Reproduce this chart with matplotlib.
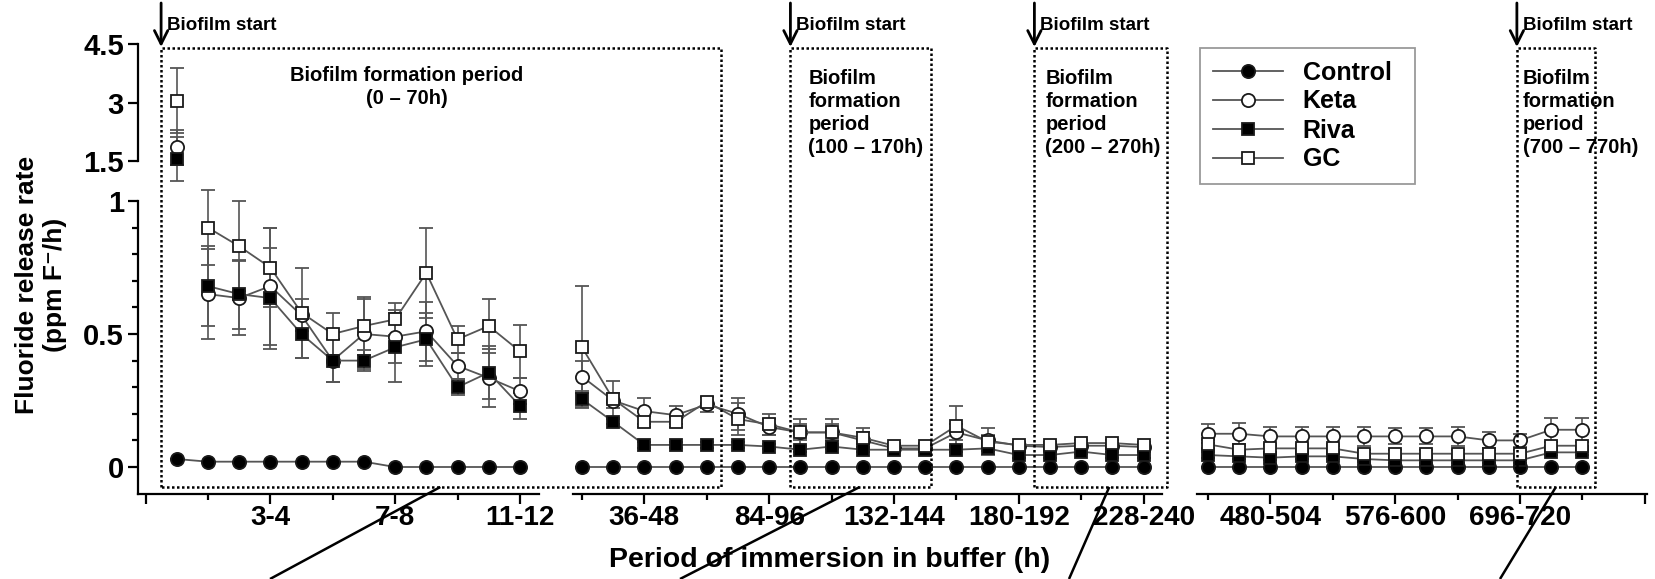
import numpy as np
import matplotlib
matplotlib.use('Agg')
import matplotlib.pyplot as plt
from matplotlib.lines import Line2D

plt.rcParams['font.family'] = ['Liberation Sans', 'DejaVu Sans']
plt.rcParams['font.weight'] = 'bold'
plt.rcParams['axes.linewidth'] = 1.6

W, H = 1655, 579

# ---- data: fluoride release rate (ppm F-/h), three x-axis segments ----
seg_sizes = [12, 19, 13]
seg_first = [1, 0, 0]          # category index of the first sample in each segment

control = [0.03, 0.02, 0.02, 0.02, 0.02, 0.02, 0.02, 0.0, 0.0, 0.0, 0.0, 0.0,
           0.0, 0.0, 0.0, 0.0, 0.0, 0.0, 0.0, 0.0, 0.0, 0.0, 0.0, 0.0, 0.0, 0.0, 0.0, 0.0, 0.0, 0.0, 0.0,
           0.0, 0.0, 0.0, 0.0, 0.0, 0.0, 0.0, 0.0, 0.0, 0.0, 0.0, 0.0, 0.0]
control_sd = [0.0] * 44

keta = [1.85, 0.65, 0.635, 0.68, 0.57, 0.40, 0.50, 0.49, 0.51, 0.38, 0.335, 0.285,
        0.34, 0.25, 0.21, 0.195, 0.235, 0.20, 0.15, 0.13, 0.13, 0.10, 0.07, 0.07, 0.13, 0.10, 0.08, 0.075, 0.08, 0.08, 0.075,
        0.125, 0.125, 0.115, 0.115, 0.115, 0.115, 0.115, 0.115, 0.115, 0.10, 0.10, 0.14, 0.14]
keta_sd = [0.45, 0.17, 0.14, 0.22, 0.06, 0.08, 0.13, 0.10, 0.11, 0.05, 0.11, 0.05,
           0.06, 0.03, 0.05, 0.035, 0.03, 0.06, 0.03, 0.03, 0.03, 0.03, 0.01, 0.01, 0.03, 0.02, 0.01, 0.01, 0.01, 0.01, 0.01,
           0.035, 0.04, 0.035, 0.035, 0.035, 0.035, 0.03, 0.03, 0.035, 0.03, 0.025, 0.045, 0.045]

riva = [1.55, 0.68, 0.65, 0.635, 0.50, 0.40, 0.40, 0.45, 0.48, 0.30, 0.355, 0.23,
        0.255, 0.17, 0.083, 0.083, 0.083, 0.083, 0.077, 0.065, 0.077, 0.065, 0.065, 0.065, 0.065, 0.07, 0.045, 0.045, 0.058, 0.045, 0.045,
        0.045, 0.04, 0.035, 0.04, 0.04, 0.03, 0.025, 0.025, 0.025, 0.025, 0.025, 0.055, 0.055]
riva_sd = [0.57, 0.15, 0.13, 0.19, 0.09, 0.08, 0.04, 0.13, 0.10, 0.03, 0.10, 0.05,
           0.03, 0.01, 0.01, 0.01, 0.01, 0.01, 0.01, 0.01, 0.01, 0.01, 0.01, 0.01, 0.01, 0.01, 0.01, 0.01, 0.01, 0.01, 0.01,
           0.01, 0.01, 0.01, 0.01, 0.01, 0.01, 0.01, 0.01, 0.01, 0.01, 0.01, 0.01, 0.01]

gc = [3.05, 0.90, 0.83, 0.75, 0.58, 0.50, 0.53, 0.555, 0.73, 0.48, 0.53, 0.435,
      0.45, 0.255, 0.17, 0.17, 0.245, 0.18, 0.16, 0.13, 0.13, 0.11, 0.08, 0.08, 0.155, 0.095, 0.083, 0.083, 0.09, 0.09, 0.083,
      0.085, 0.065, 0.07, 0.07, 0.07, 0.05, 0.05, 0.05, 0.05, 0.05, 0.05, 0.08, 0.08]
gc_sd = [0.83, 0.14, 0.17, 0.15, 0.17, 0.08, 0.11, 0.06, 0.17, 0.05, 0.10, 0.10,
         0.23, 0.07, 0.02, 0.02, 0.02, 0.06, 0.04, 0.05, 0.05, 0.035, 0.01, 0.01, 0.075, 0.05, 0.01, 0.01, 0.01, 0.01, 0.01,
         0.015, 0.015, 0.015, 0.015, 0.015, 0.015, 0.015, 0.015, 0.015, 0.015, 0.015, 0.015, 0.015]

series_names = ['Control', 'Keta', 'Riva', 'GC']

seg_major = [[0, 4, 8, 12], [2, 6, 10, 14, 18], [2, 6, 10, 14]]
seg_minor = [[2, 6, 10], [0, 4, 8, 12, 16], [0, 4, 8, 12]]
seg_labels = [['', '3-4', '7-8', '11-12'],
              ['36-48', '84-96', '132-144', '180-192', '228-240'],
              ['480-504', '576-600', '696-720', '']]
seg_xlim = [(-0.25, 12.6), (-0.3, 18.6), (-0.35, 14.06)]

box_labels = ['Biofilm formation period\n(0 \u2013 70h)',
              'Biofilm\nformation\nperiod\n(100 \u2013 170h)',
              'Biofilm\nformation\nperiod\n(200 \u2013 270h)',
              'Biofilm\nformation\nperiod\n(700 \u2013 770h)']

# ---- layout (pixels, top-left origin) ----
def rect(l, t, r, b):
    return [l / W, 1 - b / H, (r - l) / W, (b - t) / H]

fig = plt.figure(figsize=(W / 100, H / 100), dpi=100)
unit = 31.2
seg_zero = [145.5, 582, 1208]
y_top, y_bot = 201, 493.6

axes = []
for i in range(3):
    lo, hi = seg_xlim[i]
    l = seg_zero[i] + lo * unit
    r = seg_zero[i] + hi * unit
    ax = fig.add_axes(rect(l, y_top, r, y_bot))
    ax.set_xlim(lo, hi)
    ax.set_ylim(-0.1, 1.0)
    ax.patch.set_visible(False)
    for s in ['top', 'right']:
        ax.spines[s].set_visible(False)
    ax.set_xticks(seg_major[i])
    ax.set_xticklabels(seg_labels[i], fontsize=20, fontweight='bold')
    ax.set_xticks(seg_minor[i], minor=True)
    ax.tick_params(axis='x', which='major', length=7.5, width=1.6, pad=1)
    ax.tick_params(axis='x', which='minor', length=4, width=1.6)
    if i == 0:
        ax.spines['left'].set_bounds(-0.1, 1.0)
        ax.set_yticks([0, 0.5, 1])
        ax.set_yticklabels(['0', '0.5', '1'], fontsize=21, fontweight='bold')
        ax.set_yticks(np.arange(0.1, 0.95, 0.1), minor=True)
        ax.tick_params(axis='y', which='major', length=7, width=1.6, pad=3)
        ax.tick_params(axis='y', which='minor', length=4, width=1.6)
    else:
        ax.spines['left'].set_visible(False)
        ax.set_yticks([])
    axes.append(ax)

# upper (broken) part of the y axis for the first sample
axu = fig.add_axes(rect(seg_zero[0] + seg_xlim[0][0] * unit, 44,
                        seg_zero[0] + seg_xlim[0][1] * unit, 184.4))
axu.set_xlim(*seg_xlim[0])
axu.set_ylim(0.9, 4.5)
axu.patch.set_visible(False)
for s in ['top', 'right', 'bottom']:
    axu.spines[s].set_visible(False)
axu.spines['left'].set_bounds(1.5, 4.5)
axu.set_xticks([])
axu.set_yticks([1.5, 3, 4.5])
axu.set_yticklabels(['1.5', '3', '4.5'], fontsize=21, fontweight='bold')
axu.tick_params(axis='y', length=7, width=1.6, pad=3)

styles = {
    'Control': dict(marker='o', mfc='black', ms=9.5),
    'Keta': dict(marker='o', mfc='white', ms=9.5),
    'Riva': dict(marker='s', mfc='black', ms=8.5),
    'GC': dict(marker='s', mfc='white', ms=8.5),
}
values = {'Control': (control, control_sd), 'Keta': (keta, keta_sd),
          'Riva': (riva, riva_sd), 'GC': (gc, gc_sd)}


def plot_series(ax, x, y, e, st):
    if len(x) == 0:
        return
    cont = ax.errorbar(x, y, yerr=e, color='#555555', lw=1.3, ecolor='#555555',
                       elinewidth=1.2, capsize=5, capthick=1.2,
                       mec='#1a1a1a', mew=1.3, **st)
    for art in [cont[0], *cont[1], *cont[2]]:
        art.set_clip_on(False)


for name in series_names:
    vals, sds = np.array(values[name][0]), np.array(values[name][1])
    start = 0
    for i, n in enumerate(seg_sizes):
        y = vals[start:start + n]
        e = sds[start:start + n]
        x = np.arange(n) + seg_first[i]
        low = y <= 1.0
        plot_series(axes[i], x[low], y[low], e[low], styles[name])
        if i == 0:
            plot_series(axu, x[~low], y[~low], e[~low], styles[name])
        start += n

# ---- overlay: biofilm boxes, arrows, pointer lines ----
ov = fig.add_axes([0, 0, 1, 1])
ov.set_xlim(0, W)
ov.set_ylim(H, 0)
ov.axis('off')


def px(ax, x):
    return ax.transData.transform((x, 0))[0]


boxes = [(px(axes[0], 0.5), px(axes[1], 4.45)),
         (px(axes[1], 6.68), px(axes[1], 11.18)),
         (px(axes[1], 14.5), px(axes[1], 18.75)),
         (px(axes[2], 9.9), px(axes[2], 12.4))]
top, bot = 48, 487
for (x0, x1) in boxes:
    ov.plot([x0, x0, x1, x1, x0], [bot, top, top, bot, bot], color='black',
            lw=1.8, ls=(0, (1, 1)))
    ov.annotate('', xy=(x0, top - 1), xytext=(x0, 3),
                arrowprops=dict(arrowstyle='->', lw=2, color='black',
                                mutation_scale=24, shrinkA=0, shrinkB=0))
    ov.text(x0 + 6, 26, 'Biofilm start', fontsize=13.5, fontweight='bold',
            ha='left', va='center')

ov.text(407, 87, box_labels[0], fontsize=14.5, fontweight='bold',
        ha='center', va='center', linespacing=1.25)
for (x0, x1), lab, dx in zip(boxes[1:], box_labels[1:], [18, 11, 6]):
    ov.text(x0 + dx, 113, lab, fontsize=14.5, fontweight='bold',
            ha='left', va='center', linespacing=1.25)

pointers = [(px(axes[0], 9.45), 270), (px(axes[1], 8.9), 680),
            (px(axes[1], 16.9), 1069), (px(axes[2], 11.15), 1500)]
for (xs, xe) in pointers:
    ov.plot([xs, xe], [bot, H], color='black', lw=1.8, solid_capstyle='butt')

# ---- axis titles ----
fig.text(41 / W, 1 - 285 / H, 'Fluoride release rate\n(ppm F\u207b/h)',
         rotation=90, ha='center', va='center', fontsize=19,
         fontweight='bold', linespacing=1.2)
fig.text(830 / W, 1 - 560 / H, 'Period of immersion in buffer (h)',
         ha='center', va='center', fontsize=20.5, fontweight='bold')

# ---- legend ----
handles = [Line2D([], [], color='#555555', lw=1.3, mec='#1a1a1a', mew=1.3,
                  **styles[n]) for n in series_names]
leg = fig.legend(handles, series_names, loc='upper left', mode='expand',
                 bbox_to_anchor=(1200 / W, 0, 215 / W, 1 - 48 / H), frameon=True,
                 fancybox=False, prop={'weight': 'bold', 'size': 18},
                 handlelength=2.8, handletextpad=0.8, labelspacing=0.2,
                 borderpad=0.5, borderaxespad=0)
leg.get_frame().set_edgecolor('#808080')
leg.get_frame().set_linewidth(1.3)

fig.savefig('out.png', dpi=100)
